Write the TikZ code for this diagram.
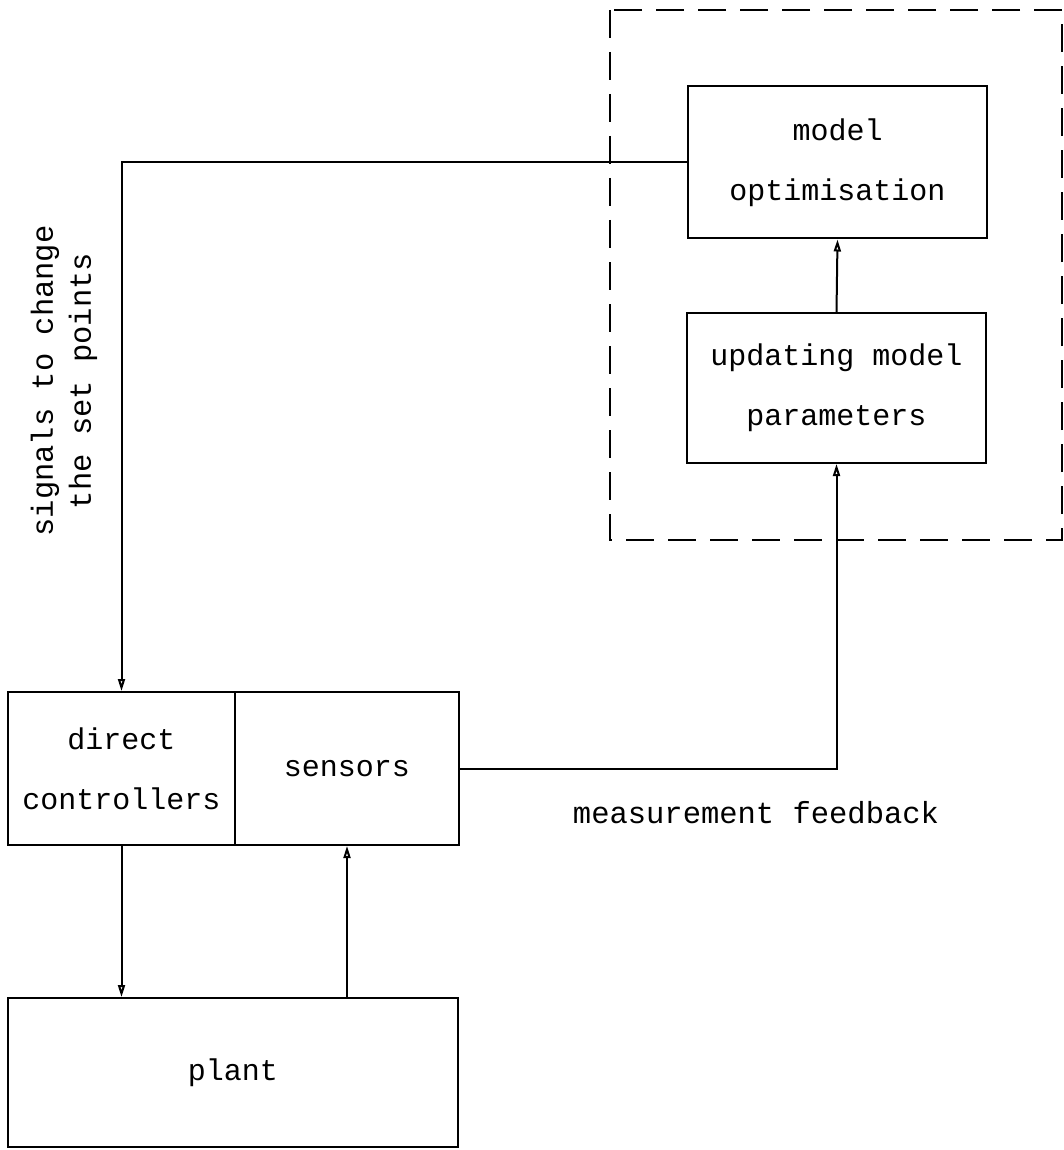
\documentclass[tikz,border=0pt]{standalone}
\usepackage{fontspec}
\setmainfont{Liberation Mono}
\usetikzlibrary{arrows.meta}
\begin{document}
\begin{tikzpicture}[x=1pt,y=-1pt,line width=2pt,
  blk/.style={draw,line width=2pt,rectangle,inner sep=0pt,align=center,
    font=\fontsize{30}{60}\selectfont},
  conn/.style={draw,line width=2pt,-{Triangle[open,length=12pt,width=7pt]}},
  lbl/.style={font=\fontsize{30.5}{38}\selectfont,align=center}]
\useasboundingbox (0,0) rectangle (1064,1150);
\node[blk,minimum width=299pt,minimum height=152pt] (opt) at (837.5,162.5) {model\\optimisation};
\node[blk,minimum width=299pt,minimum height=150pt] (upd) at (836.5,388) {updating model\\parameters};
\node[blk,minimum width=227pt,minimum height=153pt] (dc) at (121.5,768.5) {direct\\controllers};
\node[blk,minimum width=224pt,minimum height=153pt] (sens) at (347,768.5) {sensors};
\node[blk,minimum width=450pt,minimum height=149pt] (plant) at (233,1072.5) {plant};
\coordinate (dbtl) at (610,10);
\coordinate (dbbr) at (1062,540);
\draw[line width=2pt,dash pattern=on 28pt off 14pt] (dbtl) rectangle (dbbr);
\path[conn] (opt.west) -| (dc.north);
\path[conn] (upd.north) -- (opt.south);
\path[conn] (sens.east) -| (upd.south);
\path[conn] (dc.south) -- (dc.south |- plant.north);
\path[conn] (sens.south |- plant.north) -- (sens.south);
\node[lbl,rotate=90] (sig) at (64,381) {signals to change\\the set points};
\node[lbl] (mf) at (756,813) {measurement feedback};
\end{tikzpicture}
\end{document}
